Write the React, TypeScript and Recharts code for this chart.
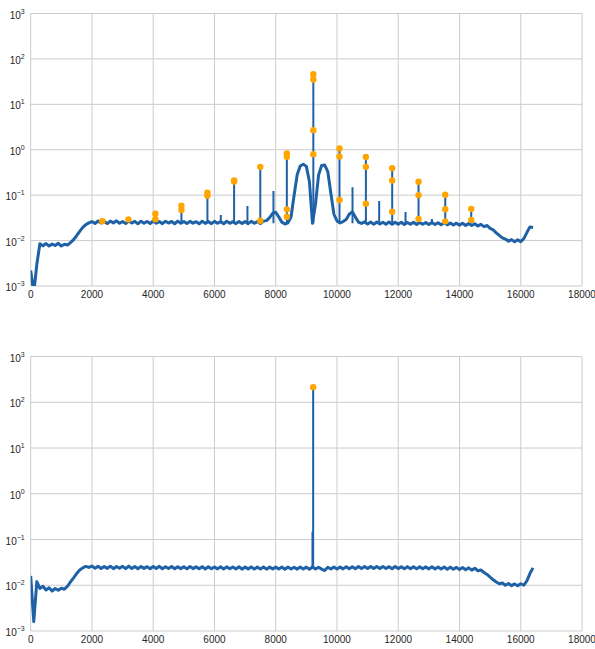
import React from 'react';
import { ComposedChart, Line, Scatter, XAxis, YAxis, CartesianGrid } from 'recharts';

// Axis ticks shared by both panels
const X_TICKS = [0, 2000, 4000, 6000, 8000, 10000, 12000, 14000, 16000, 18000];
const Y_TICKS = [0.001, 0.01, 0.1, 1, 10, 100, 1000];

// Spectrum samples are taken every 100 bins
const SAMPLE_STEP = 100;
const SPIKE_FLOOR = 0.024;

// Upper panel: raw spectrum with its harmonic comb
const topBaseline = [
  0.0022, 0.0007, 0.0030, 0.0085, 0.0077, 0.0086, 0.0076, 0.0084, 0.0078, 0.0087,
  0.0076, 0.0083, 0.0080, 0.0090, 0.0105, 0.0128, 0.0160, 0.0195, 0.0225, 0.0245,
  0.0262, 0.0238, 0.0270, 0.0243, 0.0266, 0.0236, 0.0268, 0.0245, 0.0272, 0.0240,
  0.0262, 0.0237, 0.0269, 0.0244, 0.0265, 0.0234, 0.0267, 0.0242, 0.0263, 0.0238,
  0.0270, 0.0241, 0.0262, 0.0236, 0.0266, 0.0243, 0.0264, 0.0235, 0.0268, 0.0240,
  0.0262, 0.0237, 0.0265, 0.0242, 0.0261, 0.0234, 0.0267, 0.0239, 0.0263, 0.0236,
  0.0265, 0.0241, 0.0262, 0.0235, 0.0266, 0.0240, 0.0261, 0.0236, 0.0264, 0.0239,
  0.0262, 0.0236, 0.0265, 0.0240, 0.0262, 0.0237, 0.0268, 0.0275, 0.0320, 0.0400,
  0.0420, 0.0330, 0.0255, 0.0232, 0.0245, 0.0330, 0.1000, 0.2800, 0.4400, 0.4800,
  0.4300, 0.2000, 0.0240, 0.0650, 0.2800, 0.4500, 0.4600, 0.3300, 0.1100, 0.0380,
  0.0270, 0.0245, 0.0262, 0.0290, 0.0380, 0.0430, 0.0330, 0.0255, 0.0238, 0.0258,
  0.0232, 0.0255, 0.0230, 0.0256, 0.0231, 0.0254, 0.0229, 0.0256, 0.0228, 0.0252,
  0.0230, 0.0254, 0.0227, 0.0251, 0.0229, 0.0253, 0.0226, 0.0250, 0.0228, 0.0251,
  0.0225, 0.0249, 0.0226, 0.0248, 0.0223, 0.0246, 0.0222, 0.0244, 0.0220, 0.0242,
  0.0219, 0.0240, 0.0216, 0.0238, 0.0214, 0.0235, 0.0210, 0.0228, 0.0203, 0.0215,
  0.0185, 0.0172, 0.0148, 0.0130, 0.0115, 0.0108, 0.0097, 0.0105, 0.0094, 0.0104,
  0.0095, 0.0110, 0.0150, 0.0200, 0.0195,
];

const topSpikeX = [4071, 4921, 5770, 6207, 6641, 7077, 7496, 7926, 8363, 9228, 10082, 10507, 10944, 11378, 11803, 12238, 12663, 13100, 13535, 14384];
const topSpikeY = [0.039, 0.058, 0.113, 0.0365, 0.21, 0.058, 0.42, 0.123, 0.83, 46, 1.07, 0.15, 0.69, 0.074, 0.39, 0.0425, 0.197, 0.030, 0.102, 0.050];

const topDotX = [
  2339, 3190, 4071, 4071, 4921, 4921, 5770, 5770, 6641, 6641, 7496, 7496,
  8363, 8363, 8363, 8363, 9228, 9228, 9228, 9228, 10082, 10082, 10082,
  10944, 10944, 10944, 11803, 11803, 11803, 12663, 12663, 12663,
  13535, 13535, 13535, 14384, 14384,
];
const topDotY = [
  0.0266, 0.0293, 0.039, 0.0296, 0.0585, 0.047, 0.113, 0.097, 0.21, 0.2, 0.42, 0.0273,
  0.83, 0.70, 0.0487, 0.0335, 46, 35.3, 2.7, 0.80, 1.07, 0.71, 0.078,
  0.69, 0.42, 0.065, 0.39, 0.21, 0.043, 0.197, 0.10, 0.030,
  0.102, 0.049, 0.0265, 0.050, 0.0283,
];

// Lower panel: filtered spectrum, single carrier left
const bottomBaseline = [
  0.0160, 0.0016, 0.0120, 0.0085, 0.0095, 0.0079, 0.0088, 0.0075, 0.0085, 0.0078,
  0.0086, 0.0082, 0.0095, 0.0118, 0.0145, 0.0180, 0.0215, 0.0240, 0.0258, 0.0245,
  0.0262, 0.0236, 0.0260, 0.0232, 0.0258, 0.0234, 0.0261, 0.0230, 0.0257, 0.0235,
  0.0259, 0.0231, 0.0262, 0.0233, 0.0256, 0.0230, 0.0258, 0.0234, 0.0255, 0.0229,
  0.0257, 0.0232, 0.0259, 0.0230, 0.0254, 0.0233, 0.0257, 0.0229, 0.0255, 0.0231,
  0.0253, 0.0228, 0.0256, 0.0231, 0.0252, 0.0229, 0.0255, 0.0227, 0.0253, 0.0230,
  0.0251, 0.0228, 0.0254, 0.0226, 0.0252, 0.0229, 0.0250, 0.0227, 0.0253, 0.0225,
  0.0250, 0.0228, 0.0252, 0.0226, 0.0249, 0.0227, 0.0251, 0.0225, 0.0250, 0.0228,
  0.0249, 0.0226, 0.0251, 0.0224, 0.0250, 0.0227, 0.0248, 0.0225, 0.0251, 0.0226,
  0.0249, 0.0224, 0.0250, 0.0226, 0.0248, 0.0225, 0.0210, 0.0247, 0.0226, 0.0250,
  0.0227, 0.0251, 0.0228, 0.0253, 0.0229, 0.0254, 0.0230, 0.0256, 0.0231, 0.0257,
  0.0232, 0.0258, 0.0233, 0.0257, 0.0231, 0.0256, 0.0232, 0.0255, 0.0230, 0.0256,
  0.0231, 0.0254, 0.0229, 0.0255, 0.0230, 0.0253, 0.0228, 0.0254, 0.0229, 0.0252,
  0.0228, 0.0253, 0.0227, 0.0251, 0.0226, 0.0250, 0.0224, 0.0249, 0.0223, 0.0246,
  0.0221, 0.0244, 0.0218, 0.0240, 0.0214, 0.0235, 0.0208, 0.0215, 0.0190, 0.0172,
  0.0150, 0.0132, 0.0118, 0.0108, 0.0112, 0.0100, 0.0109, 0.0098, 0.0107, 0.0097,
  0.0108, 0.0100, 0.0125, 0.0180, 0.0240,
];

const bottomSpikeX = [9200, 9222];
const bottomSpikeY = [0.147, 214];

const bottomDotX = [9222];
const bottomDotY = [214];

const BLUE = '#1f61a6';
const ORANGE = '#ffa500';
const GRID = '#cccccc';
const FONT = '"Liberation Sans", Arial, sans-serif';

type Pt = { x: number; y: number | null };

const toSeries = (values: number[]): Pt[] => values.map((y, i) => ({ x: i * SAMPLE_STEP, y }));

const toSpikes = (xs: number[], ys: number[]): Pt[] =>
  xs.flatMap((x, i) => [
    { x, y: SPIKE_FLOOR },
    { x, y: ys[i] },
    { x, y: null },
  ]);

const toDots = (xs: number[], ys: number[]) => xs.map((x, i) => ({ x, y: ys[i] }));

const PowerTick = (props: any) => {
  const { x, y, payload } = props;
  const exp = Math.round(Math.log10(payload.value));
  const label = exp < 0 ? `\u2212${-exp}` : `${exp}`;
  return (
    <text x={x} y={y + 5} textAnchor="end" fill="#262626" fontFamily={FONT} fontSize={10}>
      10
      <tspan fontSize={7} dy={-5}>
        {label}
      </tspan>
    </text>
  );
};

const Dot = (props: any) => <circle cx={props.cx} cy={props.cy} r={3.2} fill={ORANGE} />;

interface PanelProps {
  baseline: number[];
  spikeX: number[];
  spikeY: number[];
  dotX: number[];
  dotY: number[];
  height: number;
}

const SpectrumPanel: React.FC<PanelProps> = ({ baseline, spikeX, spikeY, dotX, dotY, height }) => (
  <ComposedChart width={595} height={height} margin={{ top: 13.5, right: 13, bottom: 4, left: 0 }}>
    <CartesianGrid stroke={GRID} strokeWidth={1} />
    <XAxis
      type="number"
      dataKey="x"
      domain={[0, 18000]}
      ticks={X_TICKS}
      allowDataOverflow
      axisLine={false}
      tickLine={false}
      tickSize={0}
      tickMargin={5}
      height={20}
      tick={{ fill: '#262626', fontSize: 10, fontFamily: FONT }}
    />
    <YAxis
      type="number"
      dataKey="y"
      scale="log"
      domain={[0.001, 1000]}
      ticks={Y_TICKS}
      allowDataOverflow
      axisLine={false}
      tickLine={false}
      tickSize={0}
      tickMargin={6}
      width={30.7}
      tick={<PowerTick />}
    />
    <Line
      type="linear"
      data={toSeries(baseline)}
      dataKey="y"
      stroke={BLUE}
      strokeWidth={3}
      strokeLinejoin="round"
      dot={false}
      activeDot={false}
      isAnimationActive={false}
    />
    <Line
      type="linear"
      data={toSpikes(spikeX, spikeY)}
      dataKey="y"
      stroke={BLUE}
      strokeWidth={2}
      dot={false}
      activeDot={false}
      isAnimationActive={false}
    />
    <Scatter data={toDots(dotX, dotY)} dataKey="y" shape={<Dot />} isAnimationActive={false} />
  </ComposedChart>
);

export default function App() {
  return (
    <div style={{ position: 'absolute', left: 0, top: 0, width: 595, height: 649, background: '#fff' }}>
      <div style={{ position: 'absolute', left: 0, top: 0 }}>
        <SpectrumPanel
          baseline={topBaseline}
          spikeX={topSpikeX}
          spikeY={topSpikeY}
          dotX={topDotX}
          dotY={topDotY}
          height={310}
        />
      </div>
      <div style={{ position: 'absolute', left: 0, top: 343 }}>
        <SpectrumPanel
          baseline={bottomBaseline}
          spikeX={bottomSpikeX}
          spikeY={bottomSpikeY}
          dotX={bottomDotX}
          dotY={bottomDotY}
          height={312}
        />
      </div>
    </div>
  );
}
